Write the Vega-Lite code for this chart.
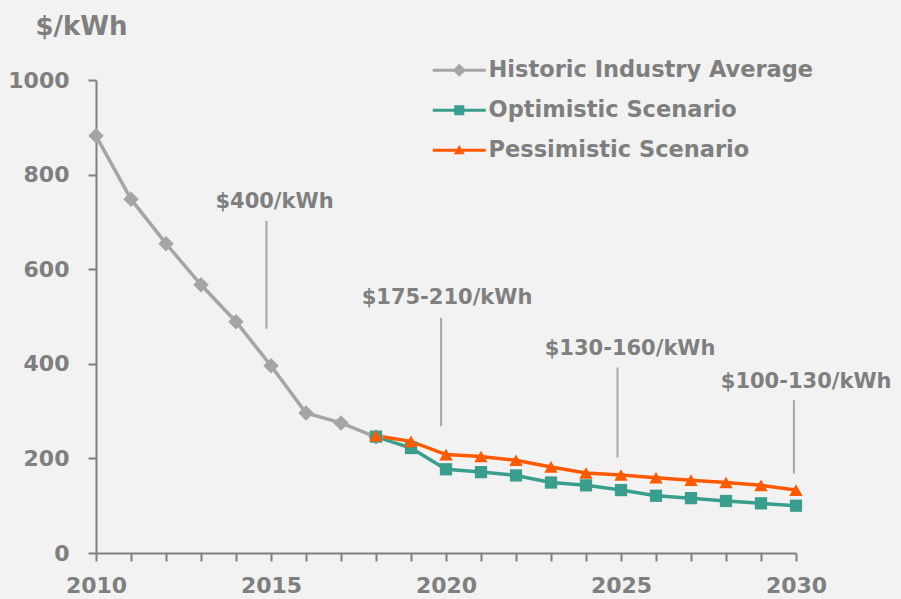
{
  "$schema": "https://vega.github.io/schema/vega-lite/v6.json",
  "width": 700,
  "height": 473,
  "autosize": {"type": "none"},
  "padding": {"left": 96, "top": 80, "right": 105, "bottom": 46},
  "background": "#F2F2F2",
  "config": {
    "view": {"stroke": null},
    "font": "DejaVu Sans",
    "axisX": {
      "title": null, "grid": false,
      "values": [2010,2011,2012,2013,2014,2015,2016,2017,2018,2019,2020,2021,2022,2023,2024,2025,2026,2027,2028,2029,2030],
      "labelExpr": "datum.value % 5 === 0 ? datum.label : ''",
      "format": "d",
      "domainColor": "#808080", "domainWidth": 2,
      "tickColor": "#808080", "tickWidth": 2, "tickSize": 8,
      "labelFontSize": 22, "labelFontWeight": "bold", "labelColor": "#7F7F7F",
      "labelPadding": 14, "labelFlush": false, "labelOverlap": false
    },
    "axisY": {
      "format": "d",
      "grid": false,
      "domainColor": "#808080", "domainWidth": 2,
      "tickColor": "#808080", "tickWidth": 2, "tickSize": 8,
      "labelFontSize": 22, "labelFontWeight": "bold", "labelColor": "#7F7F7F",
      "labelPadding": 19,
      "titleAngle": 0, "titleAlign": "center", "titleBaseline": "middle",
      "titleX": -15, "titleY": -54, "titleFontSize": 26, "titleFontWeight": "bold", "titleColor": "#7F7F7F"
    }
  },
  "datasets": {
    "series": [
      {"series": "Historic Industry Average", "year": 2010, "value": 882},
      {"series": "Historic Industry Average", "year": 2011, "value": 748},
      {"series": "Historic Industry Average", "year": 2012, "value": 654},
      {"series": "Historic Industry Average", "year": 2013, "value": 567},
      {"series": "Historic Industry Average", "year": 2014, "value": 489},
      {"series": "Historic Industry Average", "year": 2015, "value": 396},
      {"series": "Historic Industry Average", "year": 2016, "value": 296},
      {"series": "Historic Industry Average", "year": 2017, "value": 275},
      {"series": "Historic Industry Average", "year": 2018, "value": 245},
      {"series": "Optimistic Scenario", "year": 2018, "value": 246},
      {"series": "Optimistic Scenario", "year": 2019, "value": 222},
      {"series": "Optimistic Scenario", "year": 2020, "value": 177},
      {"series": "Optimistic Scenario", "year": 2021, "value": 171},
      {"series": "Optimistic Scenario", "year": 2022, "value": 164},
      {"series": "Optimistic Scenario", "year": 2023, "value": 149},
      {"series": "Optimistic Scenario", "year": 2024, "value": 143},
      {"series": "Optimistic Scenario", "year": 2025, "value": 133},
      {"series": "Optimistic Scenario", "year": 2026, "value": 121},
      {"series": "Optimistic Scenario", "year": 2027, "value": 116},
      {"series": "Optimistic Scenario", "year": 2028, "value": 110},
      {"series": "Optimistic Scenario", "year": 2029, "value": 105},
      {"series": "Optimistic Scenario", "year": 2030, "value": 100},
      {"series": "Pessimistic Scenario", "year": 2018, "value": 248},
      {"series": "Pessimistic Scenario", "year": 2019, "value": 236},
      {"series": "Pessimistic Scenario", "year": 2020, "value": 208},
      {"series": "Pessimistic Scenario", "year": 2021, "value": 204},
      {"series": "Pessimistic Scenario", "year": 2022, "value": 196},
      {"series": "Pessimistic Scenario", "year": 2023, "value": 182},
      {"series": "Pessimistic Scenario", "year": 2024, "value": 169},
      {"series": "Pessimistic Scenario", "year": 2025, "value": 165},
      {"series": "Pessimistic Scenario", "year": 2026, "value": 159},
      {"series": "Pessimistic Scenario", "year": 2027, "value": 154},
      {"series": "Pessimistic Scenario", "year": 2028, "value": 149},
      {"series": "Pessimistic Scenario", "year": 2029, "value": 143},
      {"series": "Pessimistic Scenario", "year": 2030, "value": 133}
    ],
    "notes": [
      {"label": "$400/kWh", "year": 2015.1, "value": 742, "ruleYear": 2014.87, "top": 702, "bottom": 474},
      {"label": "$175-210/kWh", "year": 2020.03, "value": 539, "ruleYear": 2019.86, "top": 497, "bottom": 268},
      {"label": "$130-160/kWh", "year": 2025.26, "value": 432, "ruleYear": 2024.9, "top": 392, "bottom": 202},
      {"label": "$100-130/kWh", "year": 2030.29, "value": 362, "ruleYear": 2029.94, "top": 323, "bottom": 168}
    ]
  },
  "layer": [
    {
      "data": {"name": "notes"},
      "mark": {"type": "rule", "color": "#A6A6A6", "strokeWidth": 2},
      "encoding": {
        "x": {"field": "ruleYear", "type": "quantitative", "scale": {"domain": [2010, 2030], "nice": false, "zero": false}},
        "y": {"field": "top", "type": "quantitative", "scale": {"domain": [0, 1000], "nice": false}, "title": "$/kWh",
              "axis": {"values": [0, 200, 400, 600, 800, 1000]}},
        "y2": {"field": "bottom"}
      }
    },
    {
      "data": {"name": "notes"},
      "mark": {"type": "text", "fontSize": 21, "fontWeight": "bold", "color": "#7F7F7F", "align": "center", "baseline": "middle"},
      "encoding": {
        "x": {"field": "year", "type": "quantitative"},
        "y": {"field": "value", "type": "quantitative", "title": "$/kWh", "axis": {"values": [0, 200, 400, 600, 800, 1000]}},
        "text": {"field": "label"}
      }
    },
    {
      "data": {"name": "series"},
      "mark": {"type": "line", "strokeWidth": 3.5},
      "encoding": {
        "x": {"field": "year", "type": "quantitative"},
        "y": {"field": "value", "type": "quantitative", "title": "$/kWh", "axis": {"values": [0, 200, 400, 600, 800, 1000]}},
        "color": {
          "field": "series", "type": "nominal",
          "scale": {
            "domain": ["Historic Industry Average", "Optimistic Scenario", "Pessimistic Scenario"],
            "range": ["#A5A5A5", "#3A9E8E", "#FF5A00"]
          },
          "legend": {
            "orient": "none", "legendX": 352, "legendY": -21, "title": null,
            "labelFontSize": 22.5, "labelFontWeight": "bold", "labelColor": "#7F7F7F", "labelLimit": 0,
            "symbolSize": 312, "symbolStrokeWidth": 0, "labelOffset": 18, "rowPadding": 17, "padding": 0
          }
        }
      }
    },
    {
      "data": {"name": "series"},
      "transform": [{"filter": "datum.series === 'Historic Industry Average'"}],
      "mark": {"type": "point", "shape": "diamond", "filled": true, "opacity": 1, "size": 240, "color": "#A5A5A5"},
      "encoding": {
        "x": {"field": "year", "type": "quantitative"},
        "y": {"field": "value", "type": "quantitative", "title": "$/kWh", "axis": {"values": [0, 200, 400, 600, 800, 1000]}}
      }
    },
    {
      "data": {"name": "series"},
      "transform": [{"filter": "datum.series === 'Optimistic Scenario'"}],
      "mark": {"type": "point", "shape": "square", "filled": true, "opacity": 1, "size": 150, "color": "#3A9E8E"},
      "encoding": {
        "x": {"field": "year", "type": "quantitative"},
        "y": {"field": "value", "type": "quantitative", "title": "$/kWh", "axis": {"values": [0, 200, 400, 600, 800, 1000]}}
      }
    },
    {
      "data": {"name": "series"},
      "transform": [{"filter": "datum.series === 'Pessimistic Scenario'"}],
      "mark": {"type": "point", "shape": "triangle-up", "filled": true, "opacity": 1, "size": 180, "color": "#FF5A00"},
      "encoding": {
        "x": {"field": "year", "type": "quantitative"},
        "y": {"field": "value", "type": "quantitative", "title": "$/kWh", "axis": {"values": [0, 200, 400, 600, 800, 1000]}}
      }
    },
    {
      "data": {"name": "series"},
      "transform": [{"filter": "false"}],
      "mark": {"type": "point", "filled": true, "opacity": 1},
      "encoding": {
        "x": {"field": "year", "type": "quantitative"},
        "y": {"field": "value", "type": "quantitative", "title": "$/kWh", "axis": {"values": [0, 200, 400, 600, 800, 1000]}},
        "color": {"field": "series", "type": "nominal"},
        "shape": {
          "field": "series", "type": "nominal",
          "scale": {
            "domain": ["Historic Industry Average", "Optimistic Scenario", "Pessimistic Scenario"],
            "range": [
              "M-3,-0.17H3V0.17H-3Z M0,-0.75L0.75,0L0,0.75L-0.75,0Z",
              "M-3,-0.17H3V0.17H-3Z M-0.57,-0.57H0.57V0.57H-0.57Z",
              "M-3,-0.17H3V0.17H-3Z M0,-0.6L0.62,0.45H-0.62Z"
            ]
          }
        }
      }
    }
  ]
}
